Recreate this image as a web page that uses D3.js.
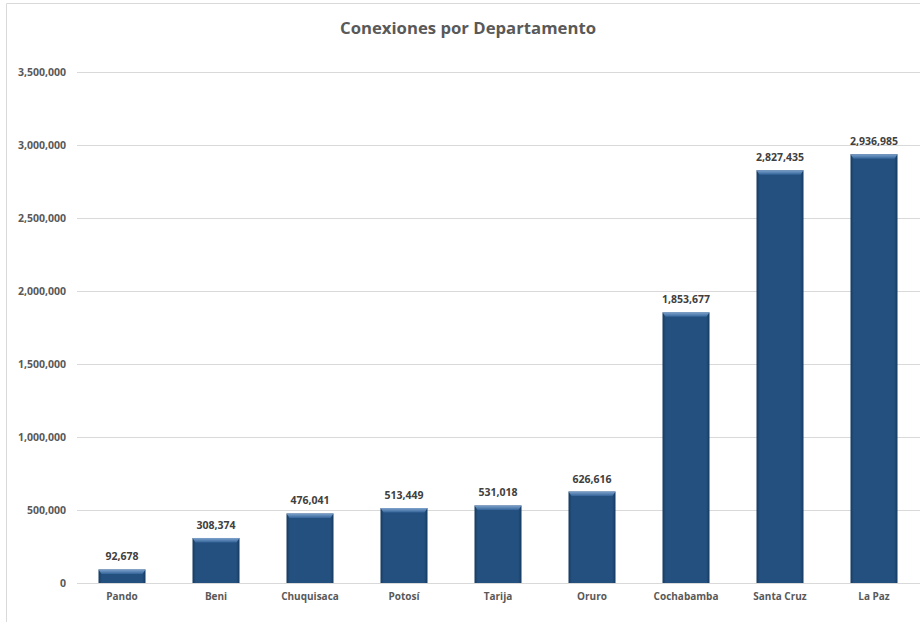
<!DOCTYPE html>
<html><head><meta charset="utf-8">
<script src="https://cdn.jsdelivr.net/npm/d3@7"></script>
<style>body{margin:0;background:#fff}svg{display:block}</style>
</head><body>
<svg id="c" width="920" height="622"></svg>
<script>
const categories = ["Pando","Beni","Chuquisaca","Potosí","Tarija","Oruro","Cochabamba","Santa Cruz","La Paz"];
const values = [92678,308374,476041,513449,531018,626616,1853677,2827435,2936985];
const yTicks = [0,500000,1000000,1500000,2000000,2500000,3000000,3500000];
const title = "Conexiones por Departamento";

const svg = d3.select("#c");
const font = "'Open Sans', 'Liberation Sans', sans-serif";
// frame (top and left edges visible)
svg.append("path").attr("d","M6.5,630 V3.5 H930").attr("fill","none").attr("stroke","#d9d9d9");

const x = d3.scaleBand().domain(categories).range([75,921]).paddingInner(0.5).paddingOuter(0.25);
const y = d3.scaleLinear().domain([0,3500000]).range([583,72]);

const defs = svg.append("defs");
const g1 = defs.append("linearGradient").attr("id","hg").attr("x1",0).attr("x2",1).attr("y1",0).attr("y2",0);
[[0,"#163a60"],[0.07,"#24507f"],[0.93,"#24507f"],[1,"#163a60"]].forEach(s=>g1.append("stop").attr("offset",s[0]).attr("stop-color",s[1]));
const g2 = defs.append("linearGradient").attr("id","tg").attr("x1",0).attr("x2",0).attr("y1",0).attr("y2",1);
[[0,"#7fa3cc"],[1,"#34649a"]].forEach(s=>g2.append("stop").attr("offset",s[0]).attr("stop-color",s[1]));

// gridlines
svg.append("g").selectAll("line").data(yTicks).join("line")
  .attr("x1",77).attr("x2",920).attr("y1",d=>Math.round(y(d))+0.5).attr("y2",d=>Math.round(y(d))+0.5)
  .attr("stroke","#d9d9d9").attr("stroke-width",1);

// y axis labels
const yAxis = d3.axisLeft(y).tickValues(yTicks).tickSize(0).tickPadding(0).tickFormat(d3.format(","));
const ya = svg.append("g").attr("transform","translate(66,0)").call(yAxis);
ya.select(".domain").remove();
ya.selectAll("text").attr("font-family",font).attr("font-size","10.5px").attr("font-weight","bold").attr("fill","#595959");

// x axis labels
const xAxis = d3.axisBottom(x).tickSize(0).tickPadding(0);
const xa = svg.append("g").attr("transform","translate(0,593)").call(xAxis);
xa.select(".domain").remove();
xa.selectAll("text").attr("font-family",font).attr("font-size","10px").attr("font-weight","bold").attr("fill","#595959");

// bars
const data = categories.map((c,i)=>({c,v:values[i]}));
const bars = svg.append("g").selectAll("g").data(data).join("g");
bars.append("rect").attr("x",d=>x(d.c)).attr("width",x.bandwidth())
  .attr("y",d=>y(d.v)).attr("height",d=>y(0)-y(d.v)).attr("fill","url(#hg)");
bars.append("path").attr("fill","url(#tg)").attr("d",d=>{
  const x0=x(d.c), x1=x0+x.bandwidth(), t=y(d.v), h=4.5;
  return `M${x0},${t} H${x1} L${x1-3},${t+h} H${x0+3} Z`;
});

// value labels
svg.append("g").selectAll("text").data(data).join("text")
  .attr("x",d=>x(d.c)+x.bandwidth()/2).attr("y",d=>y(d.v)-9)
  .attr("text-anchor","middle").attr("font-family",font).attr("font-size","10.5px").attr("font-weight","bold")
  .attr("fill","#404040").text(d=>d3.format(",")(d.v));

// title
svg.append("text").attr("x",468).attr("y",34).attr("text-anchor","middle")
  .attr("font-family",font).attr("font-size","16px").attr("font-weight","bold").attr("fill","#595959")
  .attr("textLength",256).attr("lengthAdjust","spacingAndGlyphs").text(title);
</script>
</body></html>
